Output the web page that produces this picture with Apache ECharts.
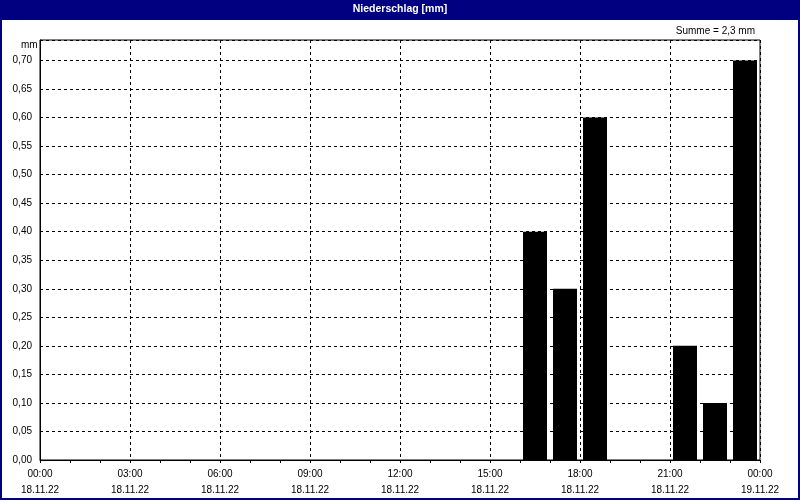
<!DOCTYPE html>
<html>
<head>
<meta charset="utf-8">
<script src="https://cdn.jsdelivr.net/npm/echarts@6/dist/echarts.min.js"></script>
<style>
  html, body { margin: 0; padding: 0; background: #fff; }
  #chart { width: 800px; height: 500px; }
</style>
</head>
<body>
<div id="chart"></div>
<script>
// Stunden (Balkenmitte) und Niederschlag in mm
const barHours = [16.5, 17.5, 18.5, 21.5, 22.5, 23.5]
const rainValues = [0.4, 0.3, 0.6, 0.2, 0.1, 0.7]
// Achsenbeschriftung x: Uhrzeit / Datum
const xTickHours = [0, 3, 6, 9, 12, 15, 18, 21, 24]
const xTickTimes = ['00:00', '03:00', '06:00', '09:00', '12:00', '15:00', '18:00', '21:00', '00:00']
const xTickDates = ['18.11.22', '18.11.22', '18.11.22', '18.11.22', '18.11.22', '18.11.22', '18.11.22', '18.11.22', '19.11.22']

const fontFam = '"Liberation Sans", Arial, sans-serif'
const summe = rainValues.reduce((a, b) => a + b, 0)

let chart = echarts.init(document.getElementById('chart'), null, { renderer: 'canvas' })

let option = {
    backgroundColor: '#fff',
    animation: false,
    title: [
        {
            text: 'Niederschlag [mm]',
            left: 'center',
            top: 4,
            padding: 0,
            textStyle: { color: '#fff', fontSize: 10.5, fontWeight: 'bold', fontFamily: fontFam }
        },
        {
            text: 'Summe = ' + summe.toFixed(1).replace('.', ',') + ' mm',
            right: 45,
            top: 26,
            padding: 0,
            textStyle: { color: '#000', fontSize: 10, fontWeight: 'normal', fontFamily: fontFam }
        }
    ],
    graphic: [
        // Rahmen + Titelleiste
        { type: 'rect', z: -1, shape: { x: 1, y: 1, width: 798, height: 498 }, style: { fill: 'none', stroke: '#000080', lineWidth: 2 } },
        { type: 'rect', z: -1, shape: { x: 0, y: 0, width: 800, height: 20 }, style: { fill: '#000080' } },
        { type: 'text', left: 21, top: 40, style: { text: 'mm', fill: '#000', font: '10px ' + fontFam } }
    ],
    grid: {
        left: 40,
        right: 40,
        top: 40,
        bottom: 40,
        show: true,
        borderColor: '#000',
        borderWidth: 1,
        backgroundColor: '#fff'
    },
    xAxis: {
        type: 'value',
        min: 0,
        max: 24,
        interval: 3,
        axisLine: { show: true, onZero: false, lineStyle: { color: '#000', width: 1 } },
        axisTick: { show: true, length: 3, lineStyle: { color: '#000' } },
        minorTick: { show: true, splitNumber: 3, length: 3, lineStyle: { color: '#000' } },
        splitLine: { show: true, lineStyle: { color: '#000', type: [3, 3], width: 1 } },
        axisLabel: {
            color: '#000',
            fontSize: 10,
            fontFamily: fontFam,
            lineHeight: 16,
            margin: 6,
            formatter: function (v) {
                let i = xTickHours.indexOf(v)
                return i < 0 ? '' : xTickTimes[i] + '\n' + xTickDates[i]
            }
        }
    },
    yAxis: {
        type: 'value',
        min: 0,
        max: 0.736,
        interval: 0.05,
        axisLine: { show: true, lineStyle: { color: '#000', width: 1 } },
        axisTick: { show: false },
        splitLine: { show: true, lineStyle: { color: '#000', type: [3, 3], width: 1 } },
        axisLabel: {
            color: '#000',
            fontSize: 10,
            fontFamily: fontFam,
            margin: 8,
            showMaxLabel: false,
            formatter: function (v) {
                return v.toFixed(2).replace('.', ',')
            }
        }
    },
    series: [
        {
            type: 'bar',
            barWidth: 24,
            itemStyle: { color: '#000' },
            data: barHours.map((h, i) => [h, rainValues[i]])
        }
    ]
}

chart.setOption(option)
</script>
</body>
</html>
